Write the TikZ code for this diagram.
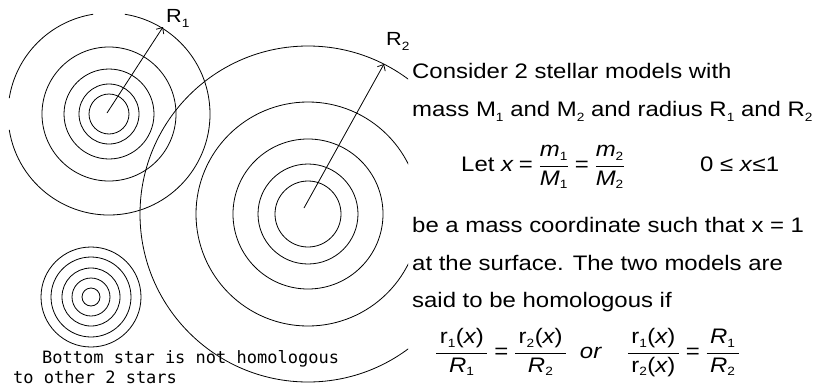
\documentclass[tikz,border=0pt]{standalone}
\usepackage{fontspec}
\setmainfont{Liberation Sans}[FakeStretch=1.14]
\newfontfamily\notefont{DejaVu Sans Mono}
\usetikzlibrary{arrows.meta}

\newcommand{\mv}[1]{\textit{#1}}
\newcommand{\lowsub}[1]{_{\hbox{\fontsize{12}{12}\selectfont #1}}}
\newcommand{\tsub}[1]{\raisebox{-5pt}{\fontsize{12}{12}\selectfont #1}}
\newcommand{\eqsign}{\mathrel{\textrm{=}}}

\begin{document}
\begin{tikzpicture}[x=1pt, y=-1pt,
    ring/.style={black, line width=0.8pt},
    radius arrow/.style={black, line width=0.8pt, -{Straight Barb[length=5pt,width=9pt]}},
    body/.style={inner sep=0pt, anchor=base west, font=\fontsize{21}{25}\selectfont},
    radlabel/.style={inner sep=0pt, anchor=base west, font=\fontsize{19}{22}\selectfont},
    note/.style={inner sep=0pt, anchor=base west, font=\notefont\fontsize{17}{20}\selectfont}]

    \useasboundingbox (0,0) rectangle (819,391);

    % Star 1
    \coordinate (C1) at (109,114);
    \foreach \r in {20,30,45,67}
        \draw[ring] (C1) circle (\r);
    \draw[ring] (C1) ++(-99:101) arc[start angle=-99, end angle=-171, radius=101];
    \draw[ring] (C1) ++(-189:101) arc[start angle=-189, end angle=-441, radius=101];

    % Star 2 (cut off by the text on the right)
    \coordinate (C2) at (308,214);
    \begin{scope}
        \clip (0,0) rectangle (408,391);
        \foreach \r in {33,50,75,112,168}
            \draw[ring] (C2) circle (\r);
    \end{scope}

    % Star 3
    \coordinate (C3) at (91,297);
    \foreach \r in {9,19,29,40,50}
        \draw[ring] (C3) circle (\r);

    % Radius arrows
    \coordinate (A1) at (107,113);
    \coordinate (T1) at (163,27);
    \coordinate (A2) at (304,208);
    \coordinate (T2) at (384,64);
    \draw[radius arrow] (A1) -- (T1);
    \draw[radius arrow] (A2) -- (T2);
    \node[radlabel] (labR1) at (166,22) {R\tsub{1}};
    \node[radlabel] (labR2) at (386,45) {R\tsub{2}};

    % Note under star 3
    \node[note] (note1) at (42,363) {Bottom star is not homologous};
    \node[note] (note2) at (13,383) {to other 2 stars};

    % Text on the right
    \node[body] (line1) at (412,78) {Consider 2 stellar models with};
    \node[body] (line2) at (412,116) {mass M\tsub{1} and M\tsub{2} and radius R\tsub{1} and R\tsub{2}};
    \node[body] (line3) at (461,171) {Let $\displaystyle \mv{x}\eqsign\frac{\mv{m}\lowsub{1}}{\mv{M}\lowsub{1}}\eqsign\frac{\mv{m}\lowsub{2}}{\mv{M}\lowsub{2}}$};
    \node[body] (range) at (700,171) {0 ≤ \mv{x}≤1};
    \node[body] (line4) at (412,232) {be a mass coordinate such that x = 1};
    \node[body] (line5) at (412,270) {at the surface. The two models are};
    \node[body] (line6) at (412,307) {said to be homologous if};
    \node[body] (homol) at (435,358) {$\displaystyle
        \frac{\,\textrm{r}\lowsub{1}\textrm{(}\mv{x}\textrm{)}\,}{\mv{R}\lowsub{1}}
        \eqsign
        \frac{\,\textrm{r}\lowsub{2}\textrm{(}\mv{x}\textrm{)}\,}{\mv{R}\lowsub{2}}$
        \hspace{6pt}\mv{or}\hspace{18pt}
        $\displaystyle
        \frac{\,\textrm{r}\lowsub{1}\textrm{(}\mv{x}\textrm{)}\,}{\textrm{r}\lowsub{2}\textrm{(}\mv{x}\textrm{)}}
        \eqsign
        \frac{\,\mv{R}\lowsub{1}\,}{\mv{R}\lowsub{2}}$};

\end{tikzpicture}
\end{document}
